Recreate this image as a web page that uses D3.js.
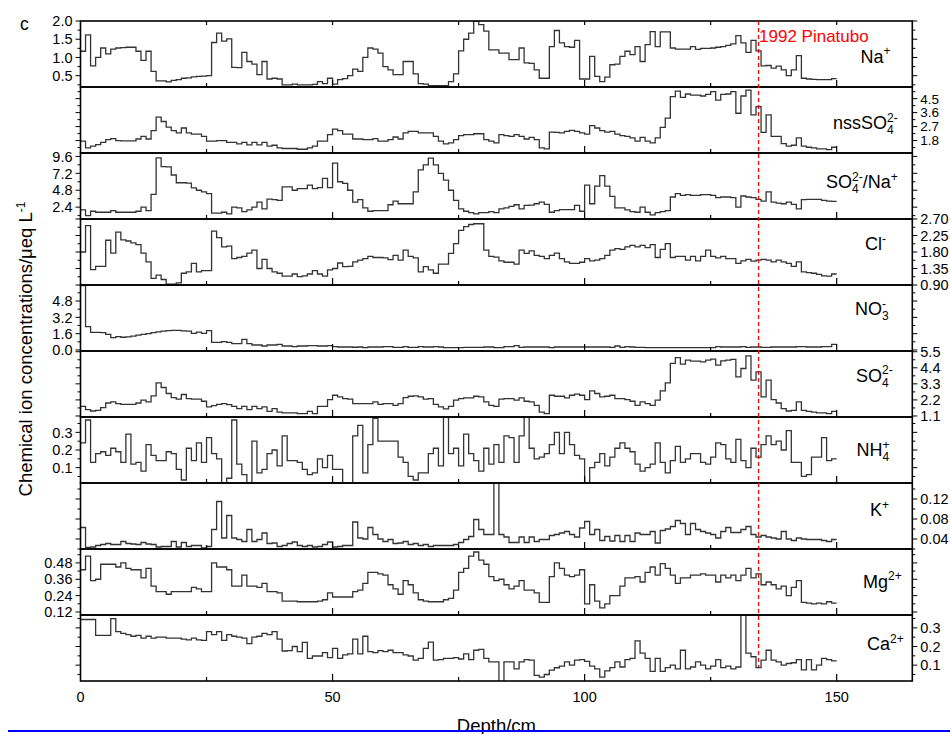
<!DOCTYPE html>
<html>
<head>
<meta charset="utf-8">
<script src="https://cdn.jsdelivr.net/npm/d3@7/dist/d3.min.js"></script>
<style>
  body { margin: 0; background: #fff; }
  text { font-family: "Liberation Sans", Arial, Helvetica, sans-serif; fill: #000; }
</style>
</head>
<body>
<svg id="chart" width="950" height="734"></svg>
<script>
// Sample tops (cm); each value covers [depth, depth + 1)
const sampleDepth = d3.range(0, 150, 1);
const depthEnd = 150;

const naValues = [
  1.17,1.62,0.77,1.0,1.26,1.10,1.23,1.26,1.27,1.28,
  1.28,1.17,0.92,1.17,0.62,0.36,0.36,0.33,0.37,0.39,
  0.43,0.44,0.47,0.48,0.49,0.50,1.41,1.67,1.45,1.51,
  0.73,0.72,1.14,0.89,0.82,0.53,0.89,0.41,0.43,0.41,
  0.25,0.25,0.27,0.25,0.25,0.25,0.26,0.34,0.28,0.43,
  0.27,0.39,0.42,0.50,0.68,0.62,1.0,1.26,1.23,1.12,
  0.75,0.66,0.53,0.53,0.89,0.89,0.55,0.28,0.27,0.23,
  0.23,0.23,0.23,0.34,0.55,1.18,1.5,1.67,2.0,1.9,
  1.72,1.21,1.21,1.12,1.12,0.94,0.94,1.26,0.85,0.84,
  0.66,0.43,0.43,1.30,1.74,1.40,1.30,1.28,1.47,0.41,
  0.41,1.03,0.48,0.34,0.46,0.80,0.82,1.03,1.17,1.08,
  1.30,0.89,1.35,1.71,1.30,1.70,1.70,1.26,1.23,1.23,
  1.23,1.30,1.22,1.25,1.25,1.26,1.28,1.30,1.33,1.37,
  1.60,1.40,1.14,1.47,1.18,0.77,0.78,0.71,0.76,0.66,
  0.50,0.66,1.05,0.43,0.41,0.40,0.39,0.39,0.39,0.42
];

const nssSO4Values = [
  1.76,1.33,1.44,1.54,1.69,1.86,1.93,1.80,1.78,1.78,
  1.78,1.90,2.07,1.90,2.44,3.31,3.03,2.67,2.44,2.29,
  2.61,2.29,2.22,2.22,2.07,1.76,1.76,1.80,1.80,1.69,
  1.69,1.59,1.69,1.52,1.69,1.52,1.69,1.44,1.50,1.33,
  1.29,1.29,1.29,1.24,1.24,1.33,1.44,1.76,1.76,2.18,
  2.54,2.44,2.22,2.22,1.90,1.90,1.86,1.86,1.93,1.76,
  1.76,1.86,2.03,1.90,2.29,2.39,2.39,2.29,2.29,2.29,
  2.07,1.76,1.59,1.65,1.86,2.12,2.18,2.18,2.24,2.24,
  1.86,1.76,1.65,2.18,2.12,2.07,2.18,2.07,1.90,2.01,
  1.86,1.33,1.27,2.35,2.33,2.29,2.39,2.46,2.39,2.29,
  2.22,2.76,2.61,2.44,2.35,2.39,2.22,2.12,2.07,1.97,
  1.76,2.01,1.76,1.65,1.97,2.65,3.24,4.63,4.99,4.58,
  4.80,4.73,4.73,4.67,4.78,4.95,4.41,4.78,4.80,4.95,
  3.56,4.67,5.05,3.46,3.99,2.33,3.46,2.07,2.07,1.61,
  1.44,1.50,1.97,1.44,1.37,1.33,1.27,1.27,1.22,1.37
];

const so4NaRatio = [
  2.0,1.2,1.82,1.68,1.68,1.68,1.92,1.68,1.68,1.68,
  1.68,1.82,2.4,1.92,4.22,9.4,8.16,8.1,6.96,5.86,
  5.86,5.8,5.14,4.8,4.56,4.32,1.54,1.54,1.68,1.44,
  2.4,2.3,1.78,2.0,2.4,3.12,2.16,3.55,3.46,3.36,
  5.28,5.28,4.8,5.04,5.04,5.52,5.04,5.18,6.48,5.18,
  8.64,6.0,5.76,4.8,3.12,3.46,2.3,1.82,1.92,1.92,
  1.92,2.74,3.26,2.88,2.88,2.88,4.56,7.68,8.4,9.36,
  8.4,7.2,6.24,4.8,3.36,2.16,1.82,1.63,1.44,1.63,
  1.63,1.78,1.63,2.16,2.3,2.5,2.74,2.16,2.64,2.70,
  2.88,3.12,2.78,1.68,1.92,2.06,2.06,2.06,2.64,1.82,
  5.52,2.88,5.38,6.86,5.38,3.94,2.3,2.3,2.0,1.78,
  1.68,2.4,1.68,1.3,1.63,1.78,1.92,3.84,4.32,4.08,
  4.18,4.08,4.08,4.18,4.18,4.08,3.74,3.84,3.84,3.74,
  2.4,3.98,3.84,3.74,3.5,3.26,4.56,3.12,2.98,2.88,
  3.12,2.78,2.16,3.46,3.5,3.5,3.5,3.36,3.26,3.22
];

const clValues = [
  1.8,2.52,1.32,1.41,1.41,2.12,1.77,2.34,2.13,2.1,
  2.05,2.0,1.77,1.53,1.08,1.17,1.05,0.92,0.92,0.96,
  1.22,1.26,1.49,1.26,1.29,1.29,2.37,2.19,1.94,1.96,
  1.62,1.65,1.68,1.77,1.85,1.35,1.60,1.35,1.26,1.22,
  1.14,1.14,1.2,1.13,1.15,1.2,1.29,1.2,1.14,1.31,
  1.35,1.5,1.4,1.41,1.53,1.58,1.62,1.68,1.65,1.65,
  1.64,1.59,1.71,1.58,1.85,1.68,1.64,1.26,1.4,1.31,
  1.22,1.47,1.47,1.76,2.03,2.39,2.49,2.55,2.57,2.57,
  1.85,1.68,1.66,1.56,1.52,1.52,1.47,1.85,1.76,1.83,
  1.71,1.68,1.62,1.71,1.77,1.62,1.53,1.49,1.49,1.52,
  1.62,1.56,1.58,1.62,1.71,1.85,1.89,1.87,1.94,1.98,
  1.94,1.98,1.92,2.0,1.65,1.87,2.03,1.65,1.68,1.68,
  1.58,1.68,1.56,1.68,1.85,1.68,1.64,1.68,1.62,1.62,
  1.49,1.56,1.60,1.55,1.58,1.60,1.58,1.53,1.58,1.53,
  1.49,1.41,1.53,1.26,1.24,1.22,1.19,1.15,1.14,1.2
];

const no3Values = [
  6.3,2.29,1.73,1.73,1.70,1.53,1.21,1.31,1.25,1.28,
  1.35,1.45,1.52,1.60,1.70,1.78,1.84,1.90,1.92,1.92,
  1.88,1.85,1.63,1.76,1.63,1.90,0.75,0.75,0.82,0.75,
  0.62,0.62,1.04,0.62,0.49,0.49,0.39,0.49,0.49,0.55,
  0.39,0.39,0.33,0.39,0.39,0.42,0.42,0.39,0.39,0.42,
  0.33,0.29,0.29,0.29,0.27,0.29,0.23,0.29,0.29,0.29,
  0.33,0.33,0.26,0.26,0.33,0.26,0.26,0.33,0.29,0.29,
  0.33,0.29,0.23,0.23,0.23,0.23,0.26,0.26,0.26,0.26,
  0.29,0.29,0.23,0.23,0.33,0.33,0.42,0.26,0.29,0.29,
  0.29,0.29,0.29,0.23,0.29,0.29,0.29,0.29,0.29,0.29,
  0.29,0.29,0.29,0.29,0.29,0.26,0.39,0.26,0.33,0.29,
  0.26,0.26,0.23,0.23,0.23,0.23,0.23,0.23,0.23,0.23,
  0.23,0.23,0.23,0.23,0.23,0.23,0.33,0.29,0.29,0.29,
  0.29,0.33,0.26,0.29,0.29,0.26,0.26,0.29,0.29,0.29,
  0.29,0.29,0.33,0.33,0.29,0.29,0.29,0.33,0.33,0.55
];

const so4Values = [
  1.76,1.53,1.44,1.48,1.67,1.99,2.06,1.95,1.90,1.90,
  1.90,1.99,2.18,2.06,2.47,3.37,3.05,2.64,2.36,2.25,
  2.57,2.29,2.25,2.25,2.11,1.72,1.81,1.90,1.95,1.88,
  1.76,1.60,1.76,1.53,1.76,1.60,1.72,1.42,1.60,1.37,
  1.31,1.31,1.31,1.26,1.26,1.42,1.26,1.76,1.76,2.22,
  2.52,2.41,2.29,2.25,1.95,1.95,1.95,1.95,2.06,1.90,
  1.95,1.95,1.83,1.95,2.36,2.45,2.47,2.41,2.25,2.29,
  1.90,1.72,1.58,1.76,2.18,2.29,2.34,2.34,2.45,2.41,
  2.06,1.83,1.76,2.25,2.29,2.29,2.18,2.34,2.11,2.06,
  1.83,1.37,1.26,2.52,2.45,2.45,2.34,2.52,2.59,2.52,
  2.22,2.82,2.64,2.41,2.45,2.52,2.29,2.29,2.22,2.11,
  1.83,2.06,1.95,1.83,2.18,2.82,3.37,4.70,5.09,4.65,
  4.93,4.86,4.86,4.81,4.93,5.0,4.58,4.88,4.93,4.97,
  3.78,4.35,5.22,3.55,4.12,2.41,3.55,2.22,1.99,1.60,
  1.44,1.49,2.06,1.49,1.42,1.37,1.31,1.31,1.26,1.42
];

const nh4Values = [
  0.24,0.37,0.13,0.18,0.19,0.17,0.21,0.19,0.13,0.29,
  0.12,0.13,0.08,0.23,0.17,0.14,0.14,0.19,0.18,0.09,
  0.03,0.21,0.14,0.24,0.13,0.27,0.18,0.15,0.01,0.04,
  0.37,0.12,0.06,0.01,0.25,0.07,0.09,0.18,0.20,0.11,
  0.28,0.14,0.14,0.13,0.09,0.06,0.07,0.15,0.10,0.17,
  0.09,0.09,0.01,0.01,0.28,0.34,0.07,0.23,0.38,0.25,
  0.25,0.25,0.25,0.16,0.13,0.05,0.03,0.07,0.07,0.18,
  0.21,0.11,0.39,0.18,0.21,0.11,0.29,0.18,0.14,0.08,
  0.21,0.12,0.23,0.13,0.28,0.27,0.13,0.28,0.40,0.21,
  0.15,0.16,0.18,0.23,0.30,0.18,0.30,0.23,0.17,0.15,
  0.01,0.10,0.13,0.18,0.11,0.16,0.21,0.24,0.21,0.19,
  0.12,0.08,0.10,0.12,0.24,0.13,0.07,0.14,0.22,0.13,
  0.15,0.18,0.18,0.13,0.12,0.16,0.24,0.23,0.15,0.13,
  0.26,0.14,0.10,0.21,0.16,0.23,0.28,0.23,0.25,0.20,
  0.31,0.13,0.13,0.05,0.06,0.16,0.16,0.27,0.14,0.15
];

const kValues = [
  0.063,0.023,0.024,0.027,0.029,0.031,0.029,0.029,0.035,0.031,
  0.030,0.029,0.033,0.030,0.029,0.024,0.025,0.025,0.035,0.024,
  0.033,0.025,0.027,0.027,0.022,0.025,0.059,0.115,0.042,0.087,
  0.042,0.039,0.035,0.059,0.035,0.039,0.052,0.031,0.032,0.025,
  0.027,0.031,0.034,0.027,0.025,0.027,0.024,0.025,0.029,0.034,
  0.024,0.025,0.027,0.027,0.074,0.042,0.040,0.063,0.049,0.040,
  0.035,0.039,0.031,0.032,0.035,0.029,0.031,0.027,0.029,0.025,
  0.027,0.027,0.027,0.027,0.029,0.033,0.039,0.045,0.079,0.059,
  0.049,0.049,0.16,0.049,0.044,0.033,0.033,0.044,0.033,0.044,
  0.035,0.039,0.039,0.047,0.049,0.052,0.055,0.049,0.044,0.062,
  0.075,0.049,0.059,0.037,0.045,0.036,0.047,0.035,0.047,0.035,
  0.052,0.049,0.049,0.055,0.032,0.057,0.060,0.065,0.077,0.071,
  0.049,0.071,0.059,0.055,0.052,0.049,0.042,0.055,0.063,0.053,
  0.053,0.059,0.065,0.049,0.044,0.047,0.044,0.042,0.040,0.055,
  0.040,0.037,0.042,0.040,0.039,0.039,0.039,0.037,0.035,0.039
];

const mgValues = [
  0.43,0.53,0.35,0.36,0.47,0.47,0.47,0.45,0.48,0.44,
  0.43,0.43,0.37,0.44,0.31,0.27,0.27,0.25,0.27,0.27,
  0.27,0.27,0.30,0.29,0.27,0.27,0.48,0.45,0.45,0.43,
  0.31,0.31,0.39,0.31,0.31,0.30,0.33,0.27,0.27,0.26,
  0.20,0.20,0.20,0.195,0.195,0.195,0.195,0.20,0.21,0.26,
  0.23,0.23,0.23,0.23,0.27,0.28,0.33,0.41,0.41,0.40,
  0.39,0.32,0.29,0.25,0.35,0.32,0.26,0.21,0.20,0.195,
  0.195,0.195,0.21,0.22,0.28,0.41,0.44,0.53,0.56,0.50,
  0.47,0.38,0.35,0.36,0.32,0.29,0.31,0.35,0.28,0.28,
  0.26,0.19,0.19,0.38,0.48,0.44,0.39,0.38,0.39,0.43,
  0.18,0.32,0.20,0.15,0.18,0.24,0.24,0.31,0.37,0.37,
  0.38,0.34,0.41,0.45,0.39,0.475,0.44,0.39,0.33,0.37,
  0.37,0.39,0.39,0.40,0.39,0.39,0.34,0.39,0.37,0.39,
  0.35,0.39,0.44,0.37,0.40,0.32,0.34,0.32,0.29,0.31,
  0.24,0.30,0.35,0.19,0.185,0.18,0.185,0.18,0.195,0.185
];

const caValues = [
  0.345,0.345,0.345,0.26,0.26,0.26,0.35,0.28,0.27,0.264,
  0.255,0.26,0.245,0.255,0.245,0.25,0.25,0.245,0.245,0.245,
  0.24,0.236,0.245,0.236,0.233,0.28,0.264,0.28,0.233,0.264,
  0.255,0.25,0.245,0.215,0.25,0.255,0.27,0.264,0.28,0.24,
  0.176,0.178,0.2,0.173,0.222,0.136,0.149,0.149,0.167,0.14,
  0.19,0.136,0.155,0.16,0.24,0.16,0.255,0.173,0.167,0.178,
  0.173,0.18,0.167,0.167,0.155,0.149,0.127,0.136,0.19,0.224,
  0.127,0.13,0.136,0.136,0.14,0.133,0.16,0.13,0.18,0.185,
  0.136,0.118,0.118,0.01,0.118,0.118,0.08,0.118,0.13,0.127,
  0.045,0.036,0.05,0.073,0.086,0.095,0.118,0.1,0.127,0.13,
  0.12,0.095,0.08,0.036,0.069,0.087,0.118,0.09,0.13,0.136,
  0.23,0.164,0.136,0.067,0.136,0.067,0.087,0.1,0.08,0.18,
  0.08,0.09,0.118,0.1,0.08,0.095,0.13,0.087,0.095,0.08,
  0.09,0.37,0.164,0.145,0.087,0.127,0.18,0.127,0.118,0.1,
  0.109,0.113,0.13,0.075,0.13,0.075,0.1,0.136,0.13,0.123
];

// Tick labels of each panel's value axis
const naTicks    = ["0.5", "1.0", "1.5", "2.0"];
const nssTicks   = ["1.8", "2.7", "3.6", "4.5"];
const ratioTicks = ["2.4", "4.8", "7.2", "9.6"];
const clTicks    = ["0.90", "1.35", "1.80", "2.25", "2.70"];
const no3Ticks   = ["0.0", "1.6", "3.2", "4.8"];
const so4Ticks   = ["1.1", "2.2", "3.3", "4.4", "5.5"];
const nh4Ticks   = ["0.1", "0.2", "0.3"];
const kTicks     = ["0.04", "0.08", "0.12"];
const mgTicks    = ["0.12", "0.24", "0.36", "0.48"];
const caTicks    = ["0.1", "0.2", "0.3"];
const depthTicks = ["0", "50", "100", "150"];

const pinatuboDepth = 134.5;

// Panel setup, top to bottom
const panels = [
  { values: naValues,     domain: [0.19, 2.0],    ticks: naTicks,    side: "left",
    label: [{t: "Na"}, {t: "+", sup: true}], lx: 860.5, ly: 62.5 },
  { values: nssSO4Values, domain: [1.0, 5.25],    ticks: nssTicks,   side: "right", tickFont: 13.5,
    label: [{t: "nssSO"}, {t: "4", sub: true}, {t: "2-", sup: true, back: true}], lx: 833, ly: 129 },
  { values: so4NaRatio,   domain: [0.72, 10.08],  ticks: ratioTicks, side: "left",
    label: [{t: "SO"}, {t: "4", sub: true}, {t: "2-", sup: true, back: true}, {t: "/Na"}, {t: "+", sup: true}], lx: 826, ly: 188 },
  { values: clValues,     domain: [0.9, 2.7],     ticks: clTicks,    side: "right",
    label: [{t: "Cl"}, {t: "-", sup: true}], lx: 865, ly: 250 },
  { values: no3Values,    domain: [-0.1, 6.37],   ticks: no3Ticks,   side: "left",
    label: [{t: "NO"}, {t: "3", sub: true}, {t: "-", sup: true, back: true}], lx: 855, ly: 315 },
  { values: so4Values,    domain: [1.03, 5.55],   ticks: so4Ticks,   side: "right",
    label: [{t: "SO"}, {t: "4", sub: true}, {t: "2-", sup: true, back: true}], lx: 856, ly: 381.5 },
  { values: nh4Values,    domain: [0.013, 0.387], ticks: nh4Ticks,   side: "left",
    label: [{t: "NH"}, {t: "4", sub: true}, {t: "+", sup: true, back: true}], lx: 856.5, ly: 456 },
  { values: kValues,      domain: [0.02, 0.152],  ticks: kTicks,     side: "right",
    label: [{t: "K"}, {t: "+", sup: true}], lx: 870, ly: 516 },
  { values: mgValues,     domain: [0.098, 0.582], ticks: mgTicks,    side: "left",
    label: [{t: "Mg"}, {t: "2+", sup: true}], lx: 863, ly: 587.5 },
  { values: caValues,     domain: [0.015, 0.369], ticks: caTicks,    side: "right",
    label: [{t: "Ca"}, {t: "2+", sup: true}], lx: 867, ly: 650 }
];

const svg = d3.select("#chart");
const plotLeft = 80.5, plotRight = 912.3, plotTop = 21, panelH = 66;
const x = d3.scaleLinear().domain([0, 165]).range([plotLeft, plotRight]);

const stepLine = (y) => d3.line()
  .x(d => x(d[0]))
  .y(d => y(d[1]))
  .curve(d3.curveStepAfter);

function richLabel(parent, parts, lx, ly) {
  const t = parent.append("text").attr("x", lx).attr("y", ly).style("font-size", "18px");
  let offset = 0, prev = null;
  parts.forEach(p => {
    const target = p.sup ? -7.5 : (p.sub ? 5 : 0);
    const ts = t.append("tspan").attr("dy", target - offset).text(p.t);
    if (p.sup || p.sub) ts.style("font-size", "12px");
    if (p.back && prev) ts.attr("dx", -prev.node().getComputedTextLength());
    offset = target;
    prev = ts;
  });
  return t;
}

const defs = svg.append("defs");

panels.forEach((p, k) => {
  const top = plotTop + k * panelH;
  const y = d3.scaleLinear().domain(p.domain).range([panelH, 0]);
  const g = svg.append("g").attr("transform", `translate(0,${top})`);

  defs.append("clipPath").attr("id", `clip${k}`)
    .append("rect").attr("x", plotLeft).attr("y", 0)
    .attr("width", plotRight - plotLeft).attr("height", panelH);

  // step series
  const pts = sampleDepth.map((d, i) => [d, p.values[i]]);
  pts.push([depthEnd, p.values[p.values.length - 1]]);
  g.append("path")
    .attr("clip-path", `url(#clip${k})`)
    .attr("d", stepLine(y)(pts))
    .attr("fill", "none")
    .attr("stroke", "#333")
    .attr("stroke-width", 1.3);

  // value axis ticks on both sides, labels on one side
  const major = p.ticks.map(Number);
  const step = (major[1] - major[0]) / 2;
  const minor = [];
  for (let v = major[0] - step * 20; v <= p.domain[1] + 1e-9; v += step) {
    if (v >= p.domain[0] - 1e-9) minor.push(+v.toFixed(6));
  }
  [plotLeft, plotRight].forEach(ax => {
    const dir = ax === plotLeft ? -1 : 1;
    minor.forEach(v => {
      const isMajor = major.some(m => Math.abs(m - v) < 1e-6);
      const len = isMajor ? 5 : 3;
      g.append("line")
        .attr("x1", ax).attr("x2", ax + dir * len)
        .attr("y1", y(v)).attr("y2", y(v))
        .attr("stroke", "#000").attr("stroke-width", 1);
    });
  });
  p.ticks.forEach(s => {
    const v = Number(s);
    g.append("text")
      .attr("x", p.side === "left" ? plotLeft - 8 : plotRight + 8)
      .attr("y", y(v))
      .attr("dy", "0.36em")
      .attr("text-anchor", p.side === "left" ? "end" : "start")
      .style("font-size", (p.tickFont || 14.5) + "px")
      .text(s);
  });

  // depth ticks on bottom edge (and top edge of the first panel)
  [25, 50, 75, 100, 125, 150].forEach(d => {
    const len = d % 50 === 0 ? 7 : 4;
    g.append("line").attr("x1", x(d)).attr("x2", x(d))
      .attr("y1", panelH).attr("y2", panelH - len)
      .attr("stroke", "#000").attr("stroke-width", 1.2);
    if (k === 0) {
      g.append("line").attr("x1", x(d)).attr("x2", x(d))
        .attr("y1", 0).attr("y2", 4)
        .attr("stroke", "#000").attr("stroke-width", 1.2);
    }
  });

  // frame
  g.append("rect")
    .attr("x", plotLeft).attr("y", 0)
    .attr("width", plotRight - plotLeft).attr("height", panelH)
    .attr("fill", "none").attr("stroke", "#000").attr("stroke-width", 1.6);

  richLabel(g, p.label, p.lx, p.ly - top);
});

// depth axis labels
const bottom = plotTop + panels.length * panelH;
depthTicks.forEach(s => {
  svg.append("text")
    .attr("x", x(Number(s))).attr("y", bottom + 21)
    .attr("text-anchor", "middle")
    .style("font-size", "14.5px")
    .text(s);
});

// Pinatubo marker
svg.append("line")
  .attr("x1", x(pinatuboDepth)).attr("x2", x(pinatuboDepth))
  .attr("y1", plotTop).attr("y2", 667)
  .attr("stroke", "#ff0000").attr("stroke-width", 1.3)
  .attr("stroke-dasharray", "4,3");
svg.append("text")
  .attr("x", x(pinatuboDepth) + 0.5).attr("y", 41.5)
  .style("font-size", "17px").style("fill", "#ff0000")
  .text("1992 Pinatubo");

// panel letter
svg.append("text").attr("x", 20).attr("y", 29.5)
  .style("font-size", "17.5px").text("c");

// axis titles
const yTitle = svg.append("text")
  .attr("transform", "translate(32,349) rotate(-90)")
  .attr("text-anchor", "middle")
  .style("font-size", "18.5px");
yTitle.append("tspan").text("Chemical ion concentrations/\u03bceq L");
yTitle.append("tspan").attr("dy", -7).style("font-size", "12px").text("-1");

svg.append("text")
  .attr("x", (plotLeft + plotRight) / 2).attr("y", 731.5)
  .attr("text-anchor", "middle")
  .style("font-size", "18.5px")
  .text("Depth/cm");

svg.append("line")
  .attr("x1", 8).attr("x2", 950).attr("y1", 731).attr("y2", 731)
  .attr("stroke", "#0000ff").attr("stroke-width", 2);
</script>
</body>
</html>
